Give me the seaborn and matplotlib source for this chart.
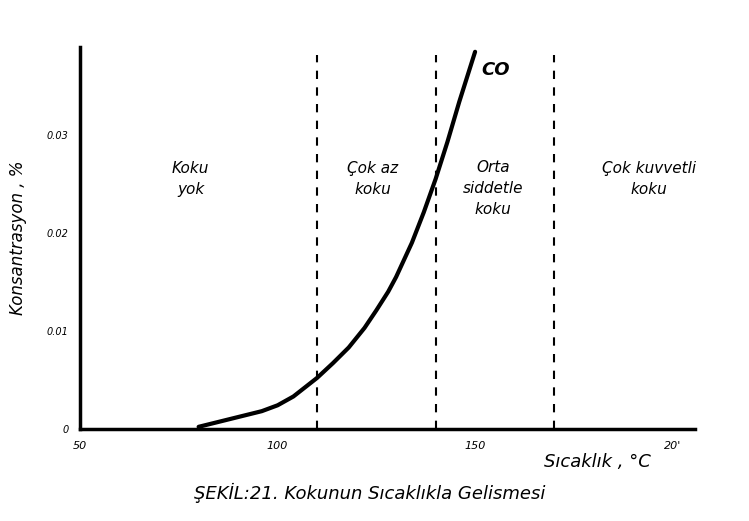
import matplotlib
matplotlib.use("Agg")
import matplotlib.pyplot as plt
import seaborn as sns
import pandas as pd

# curve (temperature in C, concentration in %)
temp = [80, 86, 90, 96, 100, 104, 110, 114, 118, 122, 125, 128, 130,
        134, 137, 140, 143, 146, 150]
conc = [0.0002, 0.0008, 0.0012, 0.0018, 0.0024, 0.0033, 0.0052, 0.0067,
        0.0083, 0.0103, 0.0121, 0.0140, 0.0155, 0.0190, 0.0221, 0.0255,
        0.0293, 0.0334, 0.0385]

thresholds = [110, 140, 170]
zone_labels = ["Koku\nyok", "Çok az\nkoku", "Orta\nsiddetle\nkoku", "Çok kuvvetli\nkoku"]
zone_x = [78, 124, 154.5, 194]
zone_y = [0.0255, 0.0255, 0.0245, 0.0255]

x_ticks = [50, 100, 150, 200]
x_ticklabels = ["50", "100", "150", "20'"]
y_ticks = [0, 0.01, 0.02, 0.03]
y_ticklabels = ["0", "0.01", "0.02", "0.03"]

df = pd.DataFrame({"temp": temp, "conc": conc})

sns.set_style("white")
plt.rcParams["font.family"] = ["DejaVu Sans"]
plt.rcParams["text.color"] = "black"
plt.rcParams["axes.labelcolor"] = "black"
plt.rcParams["xtick.color"] = "black"
plt.rcParams["ytick.color"] = "black"

fig = plt.figure(figsize=(7.49, 5.21), dpi=100)
ax = fig.add_axes([0.107, 0.177, 0.821, 0.733])

sns.lineplot(data=df, x="temp", y="conc", color="black", linewidth=3, ax=ax)

for t in thresholds:
    ax.axvline(t, ymax=0.98, color="black", linestyle=(0, (4, 4)), linewidth=1.5)

for lbl, zx, zy in zip(zone_labels, zone_x, zone_y):
    ax.text(zx, zy, lbl, ha="center", va="center", fontsize=11,
            style="italic", linespacing=1.5)

ax.text(151.5, 0.0366, "CO", fontsize=13, fontweight="bold", style="italic",
        ha="left", va="center")

ax.set_xlim(50, 205.7)
ax.set_ylim(0, 0.039)
ax.set_xticks(x_ticks)
ax.set_xticklabels(x_ticklabels, style="italic", fontsize=8)
ax.set_yticks(y_ticks)
ax.set_yticklabels(y_ticklabels, style="italic", fontsize=7)
ax.tick_params(direction="inout", length=5, width=1.2, color="black", pad=6)

ax.set_xlabel("")
ax.set_ylabel("Konsantrasyon , %", fontsize=12, style="italic", labelpad=14)

for side in ["top", "right"]:
    ax.spines[side].set_visible(False)
for side in ["left", "bottom"]:
    ax.spines[side].set_color("black")
    ax.spines[side].set_linewidth(2.5)

fig.text(0.797, 0.113, "Sıcaklık , °C", fontsize=13, style="italic",
         ha="center", va="center")
fig.text(0.494, 0.054, "ŞEKİL:21. Kokunun Sıcaklıkla Gelismesi", fontsize=13,
         style="italic", ha="center", va="center")

fig.savefig("out.png", dpi=100)
